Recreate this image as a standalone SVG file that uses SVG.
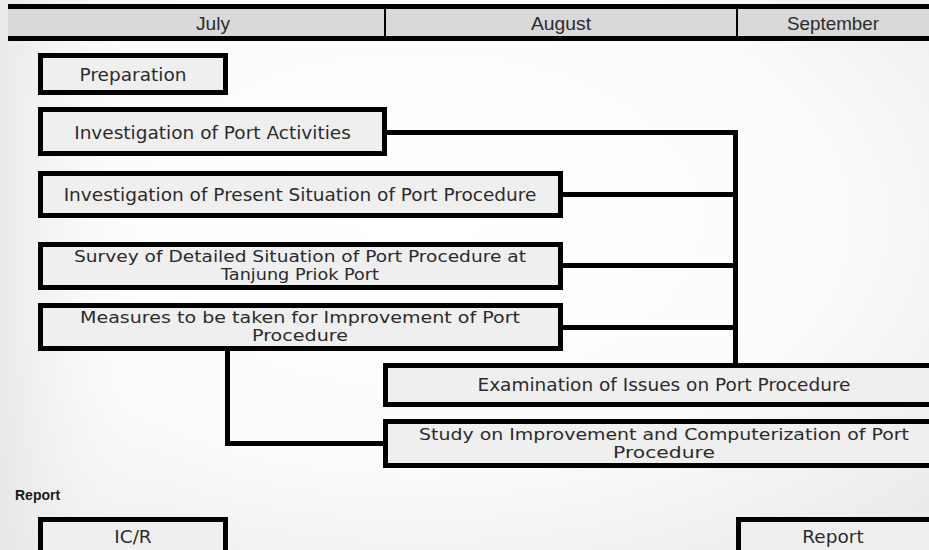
<svg xmlns="http://www.w3.org/2000/svg" width="929" height="550" viewBox="0 0 929 550">
  <defs>
    <radialGradient id="bg" cx="0.45" cy="0.4" r="0.75">
      <stop offset="0" stop-color="#ffffff"/>
      <stop offset="0.6" stop-color="#fbfbfb"/>
      <stop offset="1" stop-color="#ebebeb"/>
    </radialGradient>
    <linearGradient id="leftShade" x1="0" y1="0" x2="1" y2="0">
      <stop offset="0" stop-color="#e6e6e6" stop-opacity="0.8"/>
      <stop offset="1" stop-color="#ffffff" stop-opacity="0"/>
    </linearGradient>
    <style>
      .task { fill: #efefef; stroke: #000; stroke-width: 5; }
      .lbl { font-family: "DejaVu Sans", "Liberation Sans", sans-serif; font-size: 18.5px; fill: #2b2b2b; text-anchor: middle; }
      .lbl2 { font-family: "DejaVu Sans", "Liberation Sans", sans-serif; font-size: 15px; fill: #2b2b2b; text-anchor: middle; }
      .hdr { font-family: "Liberation Sans", Arial, sans-serif; font-size: 19px; fill: #2b2b2b; text-anchor: middle; }
      .link { fill: none; stroke: #000; stroke-width: 5; stroke-linejoin: miter; }
      .section { font-family: "Liberation Sans", Arial, sans-serif; font-size: 14px; font-weight: bold; fill: #1a1a1a; }
    </style>
  </defs>

  <!-- page background -->
  <rect x="0" y="0" width="929" height="550" fill="url(#bg)"/>
  <rect x="0" y="0" width="160" height="550" fill="url(#leftShade)"/>

  <!-- month header -->
  <g id="header">
    <rect x="8" y="9" width="921" height="27" fill="#d9d9d9"/>
    <rect x="8" y="4" width="921" height="5" fill="#000"/>
    <rect x="8" y="36" width="921" height="5" fill="#000"/>
    <rect x="384" y="9" width="2" height="27" fill="#000"/>
    <rect x="736" y="9" width="2" height="27" fill="#000"/>
    <text class="hdr" x="213" y="30" textLength="34" lengthAdjust="spacingAndGlyphs">July</text>
    <text class="hdr" x="561" y="30" textLength="60" lengthAdjust="spacingAndGlyphs">August</text>
    <text class="hdr" x="833" y="30" textLength="92" lengthAdjust="spacingAndGlyphs">September</text>
  </g>

  <!-- connectors -->
  <g id="connectors">
    <path class="link" d="M387 132.5 H735.5 V365.5"/>
    <path class="link" d="M563 194.5 H735.5"/>
    <path class="link" d="M563 265.5 H735.5"/>
    <path class="link" d="M563 327.5 H735.5"/>
    <path class="link" d="M227.5 351 V443.5 H383"/>
  </g>

  <g id="preparation">
    <rect class="task" x="40.5" y="55.5" width="185" height="37"/>
    <text class="lbl" x="133" y="81">Preparation</text>
  </g>

  <g id="port-activities">
    <rect class="task" x="40.5" y="109.5" width="344" height="44"/>
    <text class="lbl" x="212.5" y="139">Investigation of Port Activities</text>
  </g>

  <g id="present-situation">
    <rect class="task" x="40.5" y="173.5" width="520" height="42"/>
    <text class="lbl" x="300" y="201">Investigation of Present Situation of Port Procedure</text>
  </g>

  <g id="detailed-survey">
    <rect class="task" x="40.5" y="244.5" width="520" height="43"/>
    <text class="lbl2" x="300" y="262" textLength="452" lengthAdjust="spacingAndGlyphs">Survey of Detailed Situation of Port Procedure at</text>
    <text class="lbl2" x="300" y="280" textLength="158" lengthAdjust="spacingAndGlyphs">Tanjung Priok Port</text>
  </g>

  <g id="improvement-measures">
    <rect class="task" x="40.5" y="305.5" width="520" height="43"/>
    <text class="lbl2" x="300" y="323" textLength="440" lengthAdjust="spacingAndGlyphs">Measures to be taken for Improvement of Port</text>
    <text class="lbl2" x="300" y="341" textLength="96" lengthAdjust="spacingAndGlyphs">Procedure</text>
  </g>

  <g id="issue-examination">
    <rect class="task" x="385.5" y="365.5" width="562" height="39"/>
    <text class="lbl" x="664" y="391">Examination of Issues on Port Procedure</text>
  </g>

  <g id="computerization-study">
    <rect class="task" x="385.5" y="421.5" width="562" height="44"/>
    <text class="lbl2" x="664" y="440" textLength="490" lengthAdjust="spacingAndGlyphs">Study on Improvement and Computerization of Port</text>
    <text class="lbl2" x="664" y="458" textLength="102" lengthAdjust="spacingAndGlyphs">Procedure</text>
  </g>

  <text class="section" x="15" y="500">Report</text>

  <g id="icr">
    <rect class="task" x="40.5" y="519.5" width="185" height="50"/>
    <text class="lbl" x="133" y="543">IC/R</text>
  </g>

  <g id="final-report">
    <rect class="task" x="738.5" y="519.5" width="220" height="50"/>
    <text class="lbl" x="833" y="543">Report</text>
  </g>
</svg>
